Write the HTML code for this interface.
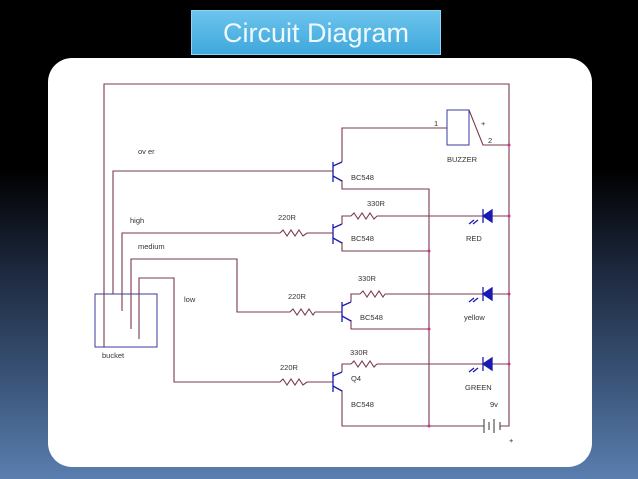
<!DOCTYPE html>
<html><head><meta charset="utf-8"><style>
html,body{margin:0;padding:0}
body{width:638px;height:479px;overflow:hidden;position:relative;background:linear-gradient(to bottom,#000 0px,#000 170px,#1a2438 260px,#3a5478 380px,#5a7eb0 479px);font-family:"Liberation Sans",sans-serif}
.title{position:absolute;left:191px;top:10px;width:250px;height:45px;background:linear-gradient(#6cc4ec,#3fa8dc);border:1px solid #8fd6f4;box-sizing:border-box;color:#eef8ff;font-size:27px;text-align:center;line-height:44px}
.panel{position:absolute;left:48px;top:58px;width:544px;height:409px;background:#fff;border-radius:24px}
svg{position:absolute;left:0;top:0}
text{font-family:"Liberation Sans",sans-serif;font-size:7.5px;fill:#333}
</style></head><body>
<div class="title">Circuit Diagram</div>
<div class="panel"></div>
<svg width="638" height="479" viewBox="0 0 638 479">
<g stroke="#7a3a4e" stroke-width="1.1" fill="none">
<polyline points="104,347 104,84 509,84 509,426 500,426"/>
<polyline points="509,145 483,145 469,110"/>
<polyline points="447,128 342,128 342,162"/>
<polyline points="113,294 113,171 333,171"/>
<polyline points="342,180 342,189 429,189 429,426"/>
<polyline points="122,311 122,233 280,233"/><polyline points="307,233 333,233"/>
<polyline points="342,224 342,216 351,216"/><polyline points="377,216 483,216"/><line x1="492" y1="216" x2="509" y2="216"/>
<polyline points="342,242 342,251 429,251"/>
<polyline points="131,329 131,259 237,259 237,312 290,312"/><polyline points="315,312 342,312"/>
<polyline points="351,302 351,294 360,294"/><polyline points="385,294 483,294"/><line x1="492" y1="294" x2="509" y2="294"/>
<polyline points="351,320 351,329 429,329"/>
<polyline points="139,339 139,278 174,278 174,382 280,382"/><polyline points="307,382 333,382"/>
<polyline points="342,372 342,364 351,364"/><polyline points="377,364 483,364"/><line x1="492" y1="364" x2="509" y2="364"/>
<polyline points="342,390 342,426 484,426"/>
<!-- resistors -->
<polyline points="280,233 283,230 287,236 291,230 295,236 299,230 303,236 307,233"/>
<polyline points="351,216 354,213 358,219 362,213 366,219 370,213 374,219 377,216"/>
<polyline points="290,312 293,309 297,315 301,309 305,315 309,309 313,315 315,312"/>
<polyline points="360,294 363,291 367,297 371,291 375,297 379,291 383,297 385,294"/>
<polyline points="280,382 283,379 287,385 291,379 295,385 299,379 303,385 307,382"/>
<polyline points="351,364 354,361 358,367 362,361 366,367 370,361 374,367 377,364"/>
</g>
<rect x="95" y="294" width="62" height="53" fill="none" stroke="#3a3aa0" stroke-width="1"/>
<rect x="447" y="110" width="22" height="35" fill="none" stroke="#3a3aa0" stroke-width="1"/>
<g stroke="#1a1ab0" stroke-width="1.3" fill="#1a1ab0">
<line x1="333" y1="162" x2="333" y2="182"/><line x1="333" y1="166" x2="342" y2="162"/><line x1="333" y1="176" x2="342" y2="181"/>
<line x1="333" y1="224" x2="333" y2="244"/><line x1="333" y1="228" x2="342" y2="224"/><line x1="333" y1="238" x2="342" y2="243"/>
<line x1="342" y1="302" x2="342" y2="322"/><line x1="342" y1="306" x2="351" y2="302"/><line x1="342" y1="316" x2="351" y2="321"/>
<line x1="333" y1="372" x2="333" y2="392"/><line x1="333" y1="376" x2="342" y2="372"/><line x1="333" y1="386" x2="342" y2="391"/>
<polygon points="492,210 492,222 483,216"/><line x1="483" y1="209" x2="483" y2="223"/>
<polygon points="492,288 492,300 483,294"/><line x1="483" y1="287" x2="483" y2="301"/>
<polygon points="492,358 492,370 483,364"/><line x1="483" y1="357" x2="483" y2="371"/>
<line x1="474" y1="220" x2="469" y2="224"/><line x1="478" y1="220" x2="473" y2="224"/>
<line x1="474" y1="298" x2="469" y2="302"/><line x1="478" y1="298" x2="473" y2="302"/>
<line x1="474" y1="368" x2="469" y2="372"/><line x1="478" y1="368" x2="473" y2="372"/>
</g>
<g stroke="#555" stroke-width="1.2">
<line x1="484" y1="419" x2="484" y2="433"/><line x1="489" y1="422" x2="489" y2="430"/><line x1="494" y1="419" x2="494" y2="433"/><line x1="500" y1="422" x2="500" y2="430"/>
</g>
<g fill="#d0308a">
<circle cx="509" cy="145" r="1.5"/><circle cx="509" cy="216" r="1.5"/><circle cx="509" cy="294" r="1.5"/><circle cx="509" cy="364" r="1.5"/>
<circle cx="429" cy="251" r="1.5"/><circle cx="429" cy="329" r="1.5"/><circle cx="429" cy="426" r="1.5"/>
</g>
<text x="138" y="154">ov er</text>
<text x="434" y="126">1</text><text x="481" y="126">+</text><text x="488" y="143">2</text>
<text x="447" y="162">BUZZER</text>
<text x="351" y="180">BC548</text>
<text x="130" y="223">high</text><text x="278" y="220">220R</text><text x="367" y="206">330R</text>
<text x="351" y="241">BC548</text><text x="466" y="241">RED</text>
<text x="138" y="249">medium</text>
<text x="184" y="302">low</text><text x="288" y="299">220R</text><text x="358" y="281">330R</text>
<text x="360" y="320">BC548</text><text x="464" y="320">yellow</text>
<text x="102" y="358">bucket</text>
<text x="350" y="355">330R</text><text x="280" y="370">220R</text>
<text x="351" y="381">Q4</text><text x="465" y="390">GREEN</text>
<text x="351" y="407">BC548</text><text x="490" y="407">9v</text><text x="509" y="443">+</text>
</svg>
</body></html>
